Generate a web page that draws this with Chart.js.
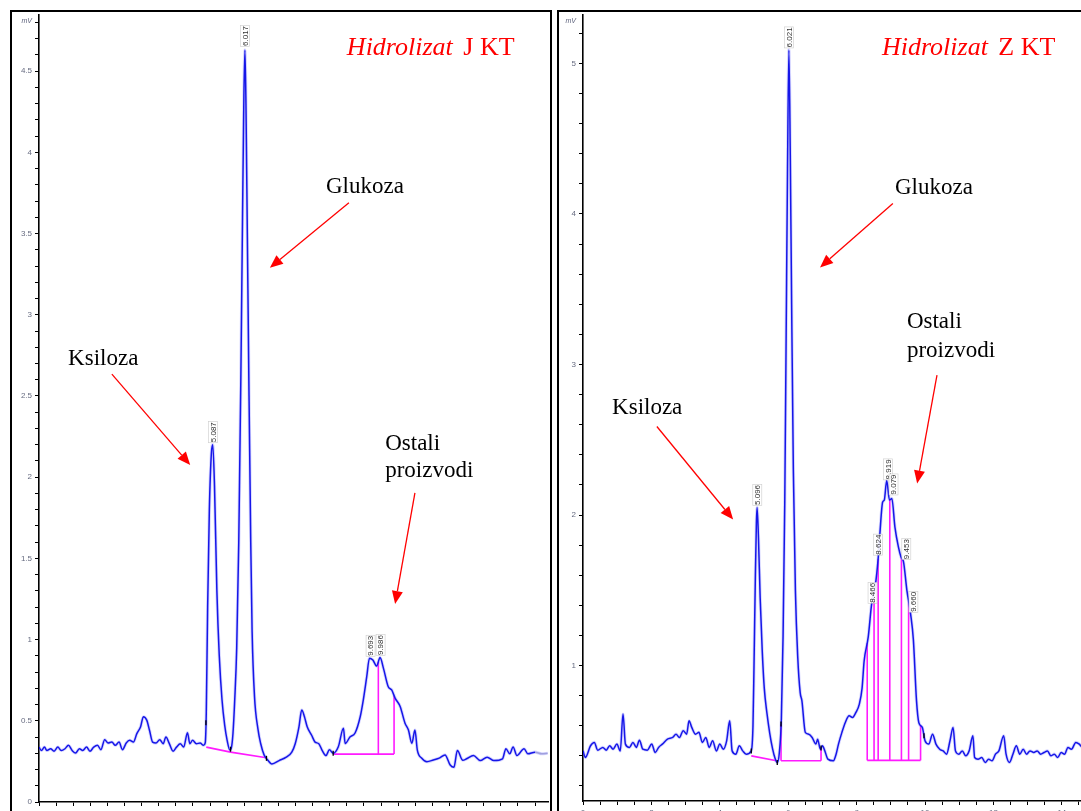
<!DOCTYPE html>
<html><head><meta charset="utf-8">
<script src="https://cdn.jsdelivr.net/npm/chart.js@4.4.1/dist/chart.umd.min.js"></script>
<style>
html,body{margin:0;padding:0;background:#fff;overflow:hidden;width:1081px;height:811px;}
.box{position:absolute;top:10px;width:542px;height:850px;border:2px solid #000;box-sizing:border-box;background:#fff;}
#boxL{left:10px;}
#boxR{left:557px;}
canvas{position:absolute;left:0;top:0;}
</style></head><body>
<div class="box" id="boxL"><canvas id="cL" width="538" height="846"></canvas></div>
<div class="box" id="boxR"><canvas id="cR" width="538" height="846"></canvas></div>
<script>
// ---------- LEFT PANEL (Hidrolizat J KT) ----------
const leftTime = [0.00,0.07,0.16,0.23,0.34,0.44,0.55,0.65,0.76,0.86,0.97,1.07,1.18,1.28,1.39,1.49,1.60,1.71,1.81,1.92,2.02,2.13,2.23,2.34,2.44,2.55,2.65,2.76,2.86,2.97,3.05,3.15,3.23,3.32,3.42,3.53,3.63,3.71,3.81,3.92,4.02,4.13,4.23,4.34,4.41,4.49,4.60,4.71,4.81,4.86,4.89,4.93,4.98,5.04,5.08,5.13,5.20,5.27,5.35,5.43,5.50,5.58,5.62,5.67,5.72,5.78,5.84,5.90,5.95,5.99,6.02,6.05,6.09,6.14,6.19,6.23,6.30,6.40,6.48,6.58,6.68,6.81,7.02,7.23,7.39,7.49,7.60,7.68,7.76,7.84,7.97,8.07,8.18,8.28,8.39,8.49,8.60,8.75,8.90,8.95,9.09,9.24,9.39,9.48,9.58,9.66,9.76,9.87,9.97,10.07,10.21,10.31,10.41,10.56,10.70,10.80,10.90,10.99,11.06,11.19,11.34,11.53,11.70,11.87,12.02,12.13,12.23,12.39,12.50,12.70,12.90,13.10,13.30,13.55,13.65,13.76,13.86,13.97,14.18,14.29,14.50,14.70,14.87];
const leftSignal = [0.338,0.317,0.338,0.317,0.328,0.313,0.338,0.317,0.328,0.349,0.317,0.301,0.328,0.317,0.338,0.313,0.338,0.349,0.322,0.384,0.363,0.369,0.349,0.369,0.322,0.363,0.380,0.369,0.421,0.463,0.525,0.504,0.442,0.369,0.363,0.384,0.359,0.400,0.359,0.313,0.338,0.359,0.338,0.427,0.359,0.380,0.359,0.363,0.349,0.365,0.55,1.20,1.80,2.15,2.20,1.95,1.30,0.90,0.63,0.47,0.38,0.32,0.33,0.42,0.62,0.95,1.60,2.60,3.60,4.35,4.63,4.30,3.50,2.50,1.60,1.05,0.65,0.45,0.36,0.29,0.26,0.234,0.255,0.276,0.307,0.359,0.463,0.566,0.525,0.463,0.411,0.369,0.359,0.317,0.286,0.322,0.300,0.340,0.454,0.360,0.400,0.425,0.525,0.628,0.770,0.885,0.874,0.837,0.889,0.823,0.710,0.690,0.640,0.587,0.485,0.443,0.361,0.443,0.320,0.269,0.248,0.259,0.270,0.290,0.228,0.214,0.317,0.257,0.266,0.286,0.255,0.276,0.255,0.266,0.328,0.297,0.338,0.286,0.328,0.297,0.307,0.297,0.300];
const leftPeakTimes = [5.087, 6.017, 9.693, 9.986];
const leftPeakHeights = [2.20, 4.64, 0.885, 0.889];
const leftPeakTexts = ['5.087','6.017','9.693','9.986'];
const leftBaselines = [[[4.89,0.338],[5.60,0.307],[6.65,0.272]], [[8.60,0.295],[10.38,0.295]]];
const leftDrops = [[9.92,0.295],[10.38,0.295]];
const leftMarkers = [4.88, 5.60, 6.65, 8.60];
const leftYTicks = {min:0, max:4.846, step:0.1, major:0.5};
const leftXTicks = {min:0, max:14.88, step:0.5, major:2};

// ---------- RIGHT PANEL (Hidrolizat Z KT) ----------
const rightTime = [0.00,0.07,0.22,0.33,0.43,0.58,0.68,0.78,0.88,0.99,1.09,1.17,1.24,1.36,1.46,1.56,1.65,1.75,1.88,2.01,2.11,2.21,2.32,2.47,2.62,2.72,2.82,2.93,3.03,3.10,3.18,3.29,3.39,3.49,3.59,3.69,3.79,3.90,4.00,4.10,4.20,4.29,4.36,4.47,4.57,4.67,4.77,4.92,4.97,5.00,5.04,5.07,5.09,5.13,5.18,5.24,5.30,5.38,5.46,5.54,5.62,5.68,5.74,5.80,5.85,5.90,5.94,5.98,6.02,6.06,6.10,6.15,6.21,6.28,6.35,6.40,6.50,6.60,6.70,6.81,6.86,6.94,7.00,7.07,7.16,7.32,7.40,7.47,7.57,7.67,7.78,7.88,7.98,8.08,8.16,8.22,8.34,8.44,8.54,8.63,8.68,8.76,8.81,8.88,8.96,9.03,9.12,9.22,9.30,9.37,9.47,9.58,9.66,9.75,9.82,9.92,10.00,10.11,10.22,10.32,10.43,10.53,10.63,10.73,10.82,10.89,10.99,11.09,11.19,11.29,11.40,11.45,11.55,11.66,11.76,11.86,11.96,12.06,12.16,12.30,12.37,12.47,12.57,12.67,12.77,12.87,12.97,13.07,13.18,13.28,13.38,13.48,13.58,13.68,13.78,13.88,13.98,14.08,14.18,14.28,14.41,14.51,14.60,14.70,14.85,14.97];
const rightSignal = [0.433,0.389,0.467,0.489,0.438,0.456,0.438,0.467,0.444,0.478,0.433,0.678,0.478,0.456,0.489,0.456,0.504,0.444,0.438,0.478,0.422,0.456,0.478,0.511,0.522,0.544,0.522,0.567,0.544,0.633,0.589,0.544,0.556,0.489,0.522,0.456,0.500,0.433,0.478,0.444,0.500,0.633,0.433,0.411,0.467,0.433,0.411,0.433,0.60,1.00,1.60,1.95,2.05,1.85,1.45,1.10,0.85,0.68,0.55,0.45,0.38,0.355,0.42,0.65,1.20,2.10,3.20,4.30,5.09,4.40,3.40,2.30,1.50,1.05,0.82,0.767,0.556,0.544,0.522,0.478,0.511,0.444,0.467,0.433,0.378,0.367,0.411,0.478,0.556,0.622,0.667,0.655,0.689,0.744,0.85,1.03,1.19,1.41,1.52,1.71,1.875,2.085,2.10,2.23,2.10,2.11,1.92,1.79,1.72,1.69,1.50,1.34,1.17,0.77,0.62,0.589,0.50,0.478,0.544,0.478,0.444,0.433,0.411,0.500,0.589,0.433,0.411,0.433,0.400,0.433,0.533,0.389,0.378,0.389,0.356,0.378,0.367,0.411,0.433,0.533,0.411,0.356,0.411,0.467,0.411,0.444,0.411,0.433,0.422,0.433,0.411,0.422,0.433,0.400,0.411,0.389,0.422,0.411,0.456,0.444,0.489,0.478,0.456,0.478,0.467,0.46];
const rightPeakTimes = [5.096, 6.021, 8.466, 8.624, 8.919, 9.079, 9.453, 9.660];
const rightPeakHeights = [2.05, 5.09, 1.40, 1.72, 2.22, 2.12, 1.69, 1.34];
const rightPeakTexts = ['5.096','6.021','8.466','8.624','8.919','9.079','9.453','9.660'];
const rightBaselines = [[[4.92,0.40],[5.66,0.367]], [[5.79,0.367],[6.96,0.367]], [[8.31,0.37],[9.87,0.37]]];
const rightDrops = [[5.79,0.367],[6.96,0.367],[8.31,0.37],[8.51,0.37],[8.63,0.37],[8.97,0.37],[9.31,0.37],[9.52,0.37],[9.87,0.37]];
const rightMarkers = [4.92, 5.68, 5.79, 6.96, 9.97];
const rightYTicks = {min:0.1, max:5.322, step:0.2, major:1};
const rightXTicks = {min:0, max:14.97, step:0.5, major:2};

// ---------- annotations (data units) ----------
const leftTitle = {t:9.0, v:4.60, italic:'Hidrolizat', plain:'J KT'};
const rightTitle = {t:8.74, v:5.053, italic:'Hidrolizat', plain:'Z KT'};
const leftNotes = [[8.39,3.75,'Glukoza'],[0.85,2.69,'Ksiloza'],[10.12,2.17,'Ostali'],[10.12,2.0,'proizvodi']];
const rightNotes = [[9.12,4.136,'Glukoza'],[0.85,2.674,'Ksiloza'],[9.47,3.24,'Ostali'],[9.47,3.053,'proizvodi']];
const leftArrows = [[9.06,3.69,6.75,3.29],[2.13,2.635,4.42,2.075],[10.99,1.903,10.41,1.219]];
const rightArrows = [[9.06,4.07,6.93,3.645],[2.16,2.588,4.39,1.97],[10.35,2.93,9.77,2.209]];

function interp(ts, vs, t){
  if (t <= ts[0]) return vs[0];
  for (let i=1;i<ts.length;i++){
    if (t <= ts[i]) { const f=(t-ts[i-1])/(ts[i]-ts[i-1]); return vs[i-1]+f*(vs[i]-vs[i-1]); }
  }
  return vs[vs.length-1];
}

function decoPlugin(d){
  return {
    id:'deco',
    beforeDatasetsDraw(chart){
      const {ctx, chartArea:a} = chart; const x=chart.scales.x, y=chart.scales.y;
      ctx.save();
      ctx.beginPath(); ctx.rect(a.left,a.top,a.right-a.left,a.bottom-a.top); ctx.clip();
      ctx.strokeStyle='#ff1aff'; ctx.lineWidth=1.6;
      d.baselines.forEach(bl=>{ ctx.beginPath(); bl.forEach((p,i)=>{ const px=x.getPixelForValue(p[0]), py=y.getPixelForValue(p[1]); if(i) ctx.lineTo(px,py); else ctx.moveTo(px,py); }); ctx.stroke(); });
      d.drops.forEach(p=>{ const px=x.getPixelForValue(p[0]); ctx.beginPath(); ctx.moveTo(px,y.getPixelForValue(p[1])); ctx.lineTo(px,y.getPixelForValue(interp(d.time,d.signal,p[0]))); ctx.stroke(); });
      ctx.restore();
    },
    afterDatasetsDraw(chart){
      const {ctx, chartArea:a} = chart; const x=chart.scales.x, y=chart.scales.y;
      ctx.save();
      ctx.strokeStyle='#000'; ctx.lineWidth=1.3;
      d.markers.forEach(t=>{ const px=x.getPixelForValue(t), py=y.getPixelForValue(interp(d.time,d.signal,t)); ctx.beginPath(); ctx.moveTo(px,py-2.5); ctx.lineTo(px,py+2.5); ctx.stroke(); });
      ctx.font='8px "Liberation Sans", Arial, sans-serif';
      d.peakTimes.forEach((t,i)=>{
        const px=x.getPixelForValue(t), py=y.getPixelForValue(d.peakHeights[i])-2;
        const txt=d.peakTexts[i]; const w=ctx.measureText(txt).width;
        ctx.save(); ctx.translate(px,py); ctx.rotate(-Math.PI/2);
        ctx.fillStyle='rgba(255,255,255,0.9)'; ctx.fillRect(0,-4.5,w+1,9);
        ctx.strokeStyle='rgba(170,170,170,0.6)'; ctx.lineWidth=0.6; ctx.strokeRect(0,-4.5,w+1,9);
        ctx.fillStyle='#333'; ctx.textAlign='left'; ctx.textBaseline='middle'; ctx.fillText(txt,0.5,0.5);
        ctx.restore();
      });
      ctx.font='italic 7px "Liberation Sans", Arial, sans-serif'; ctx.fillStyle='#5a5f7a';
      ctx.textAlign='right'; ctx.textBaseline='top'; ctx.fillText('mV', a.left-7, a.top+3);
      ctx.fillStyle='#ff0000'; ctx.textAlign='left'; ctx.textBaseline='alphabetic';
      const tx=x.getPixelForValue(d.title.t), ty=y.getPixelForValue(d.title.v);
      ctx.font='italic 26px "Liberation Serif", "DejaVu Serif", serif';
      ctx.fillText(d.title.italic, tx, ty);
      const iw=ctx.measureText(d.title.italic+' ').width;
      ctx.font='26px "Liberation Serif", "DejaVu Serif", serif';
      ctx.fillText(d.title.plain, tx+iw+4, ty);
      ctx.fillStyle='#000'; ctx.font='23px "Liberation Serif", "DejaVu Serif", serif';
      d.notes.forEach(n=>{ ctx.fillText(n[2], x.getPixelForValue(n[0]), y.getPixelForValue(n[1])); });
      ctx.strokeStyle='#ff0000'; ctx.fillStyle='#ff0000'; ctx.lineWidth=1.3;
      d.arrows.forEach(r=>{
        const x1=x.getPixelForValue(r[0]), y1=y.getPixelForValue(r[1]), x2=x.getPixelForValue(r[2]), y2=y.getPixelForValue(r[3]);
        const ang=Math.atan2(y2-y1,x2-x1), L=13, W=5.5;
        const bx=x2-L*Math.cos(ang), by=y2-L*Math.sin(ang);
        ctx.beginPath(); ctx.moveTo(x1,y1); ctx.lineTo(bx,by); ctx.stroke();
        ctx.beginPath(); ctx.moveTo(x2,y2);
        ctx.lineTo(bx+W*Math.sin(ang), by-W*Math.cos(ang));
        ctx.lineTo(bx-W*Math.sin(ang), by+W*Math.cos(ang));
        ctx.closePath(); ctx.fill();
      });
      ctx.restore();
    }
  };
}

function tickLabel(major){
  return function(v){ const r=v/major; return Math.abs(r-Math.round(r))<1e-6 ? String(Math.round(v*100)/100) : ''; };
}

function makeChart(id, time, signal, yt, xt, yAxisW, xAxisH, deco, fadeFrom){
  const blue='rgb(22,22,232)';
  const pts = time.map((t,i)=>({x:t, y:signal[i]}));
  return new Chart(document.getElementById(id), {
    type:'line',
    data:{ datasets:[
      { data: pts, borderColor: blue, borderWidth:1.5, pointRadius:0, fill:false, cubicInterpolationMode:'monotone', order:1,
        segment:{ borderColor: c => (fadeFrom!==null && c.p0.parsed.x>=fadeFrom) ? 'rgba(150,150,215,0.85)' : blue } },
      { data: pts, borderColor: 'rgba(120,120,255,0.3)', borderWidth:3.2, pointRadius:0, fill:false, cubicInterpolationMode:'monotone', order:2 }
    ]},
    options:{
      responsive:false, animation:false, devicePixelRatio:1,
      layout:{ padding:{left:0, right:2, top:3, bottom:0} },
      plugins:{ legend:{display:false}, tooltip:{enabled:false} },
      scales:{
        x:{ type:'linear', min:xt.min, max:xt.max,
            grid:{ display:true, drawOnChartArea:false, drawTicks:true, tickLength:4, color:'#000', lineWidth:1 },
            border:{ display:true, color:'#000', width:1.6 },
            ticks:{ stepSize:xt.step, autoSkip:false, includeBounds:false, maxRotation:0, padding:3, maxTicksLimit:1000,
                    font:{family:'"Liberation Sans", Arial, sans-serif', size:8}, color:'#666b80', callback: tickLabel(xt.major) },
            afterFit(s){ s.height=xAxisH; s.paddingLeft=0; s.paddingRight=0; } },
        y:{ type:'linear', min:yt.min, max:yt.max,
            grid:{ display:true, drawOnChartArea:false, drawTicks:true, tickLength:4, color:'#000', lineWidth:1 },
            border:{ display:true, color:'#000', width:1.6 },
            ticks:{ stepSize:yt.step, autoSkip:false, includeBounds:false, padding:3, maxTicksLimit:1000,
                    font:{family:'"Liberation Sans", Arial, sans-serif', size:8}, color:'#666b80', callback: tickLabel(yt.major) },
            afterFit(s){ s.width=yAxisW; s.paddingTop=0; s.paddingBottom=0; } }
      }
    },
    plugins:[decoPlugin(deco)]
  });
}

makeChart('cL', leftTime, leftSignal, leftYTicks, leftXTicks, 27, 56, {
  time:leftTime, signal:leftSignal, baselines:leftBaselines, drops:leftDrops, markers:leftMarkers,
  peakTimes:leftPeakTimes, peakHeights:leftPeakHeights, peakTexts:leftPeakTexts,
  title:leftTitle, notes:leftNotes, arrows:leftArrows }, 14.5);

makeChart('cR', rightTime, rightSignal, rightYTicks, rightXTicks, 24, 57, {
  time:rightTime, signal:rightSignal, baselines:rightBaselines, drops:rightDrops, markers:rightMarkers,
  peakTimes:rightPeakTimes, peakHeights:rightPeakHeights, peakTexts:rightPeakTexts,
  title:rightTitle, notes:rightNotes, arrows:rightArrows }, null);
</script>
</body></html>
